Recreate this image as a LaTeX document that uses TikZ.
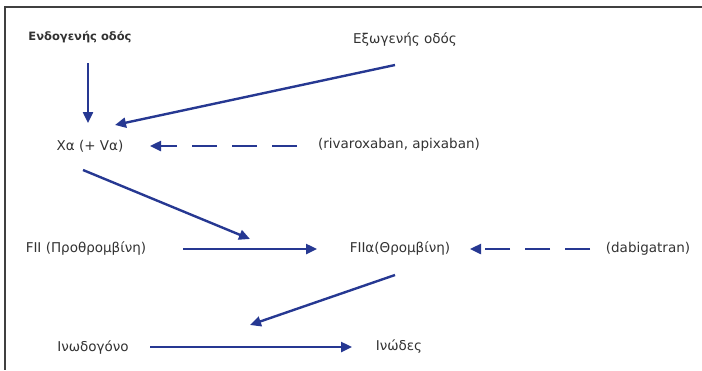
\documentclass[tikz,border=0pt]{standalone}
\usepackage{fontspec}
\setmainfont{DejaVu Sans}
\usetikzlibrary{arrows.meta}
\definecolor{pathblue}{RGB}{38,56,146}
\definecolor{labelgray}{RGB}{50,50,50}
\tikzset{
  label text/.style = {inner sep=0pt, text=labelgray, font=\fontsize{13.5}{15}\selectfont},
  flow/.style = {draw=pathblue, line width=2.4pt, -{Triangle[length=11pt,width=10pt]}},
  block/.style = {flow, dash pattern=on 25pt off 15pt}
}
\begin{document}
\begin{tikzpicture}[x=1pt,y=-1pt]
  \useasboundingbox (0,0) rectangle (702,370);
  \draw[line width=1.5pt, black!75] (702,7) -- (5,7) -- (5,370);

  % pathways
  \node[label text, font=\fontsize{11.5}{13}\selectfont\bfseries] (endo) at (80,37) {Ενδογενής οδός};
  \node[label text] (exo) at (405,40) {Εξωγενής οδός};

  % factors
  \node[label text] (xa) at (90,146) {Xα (+ Vα)};
  \node[label text] (riva) at (399,145) {(rivaroxaban, apixaban)};
  \node[label text] (fii) at (86,249) {FII (Προθρομβίνη)};
  \node[label text] (fiia) at (400,249) {FIIα(Θρομβίνη)};
  \node[label text] (dabi) at (648,249) {(dabigatran)};
  \node[label text] (fib) at (93,347) {Ινωδογόνο};
  \node[label text] (fibrin) at (399,347) {Ινώδες};

  % conversions
  \draw[flow] ([shift={(97,0)}]fii.center) -- coordinate[midway] (thrombin step) ([shift={(-83,0)}]fiia.center);
  \draw[flow] ([shift={(57,0)}]fib.center) -- coordinate[midway] (fibrin step) ([shift={(-47,0)}]fibrin.center);

  % activation
  \draw[flow] ([shift={(8,26)}]endo.center) -- ([shift={(-2,-23)}]xa.center);
  \draw[flow] ([shift={(-10,25)}]exo.center) -- ([shift={(25,-21)}]xa.center);
  \draw[flow] ([shift={(-7,24)}]xa.center) -- ([shift={(0,-10)}]thrombin step);
  \draw[flow] ([shift={(-5,26)}]fiia.center) -- ([shift={(-1,-22)}]fibrin step);

  % inhibitors
  \draw[block] ([shift={(-102,1)}]riva.center) -- ([shift={(60,0)}]xa.center);
  \draw[block] ([shift={(-58,0)}]dabi.center) -- ([shift={(70,0)}]fiia.center);
\end{tikzpicture}
\end{document}
